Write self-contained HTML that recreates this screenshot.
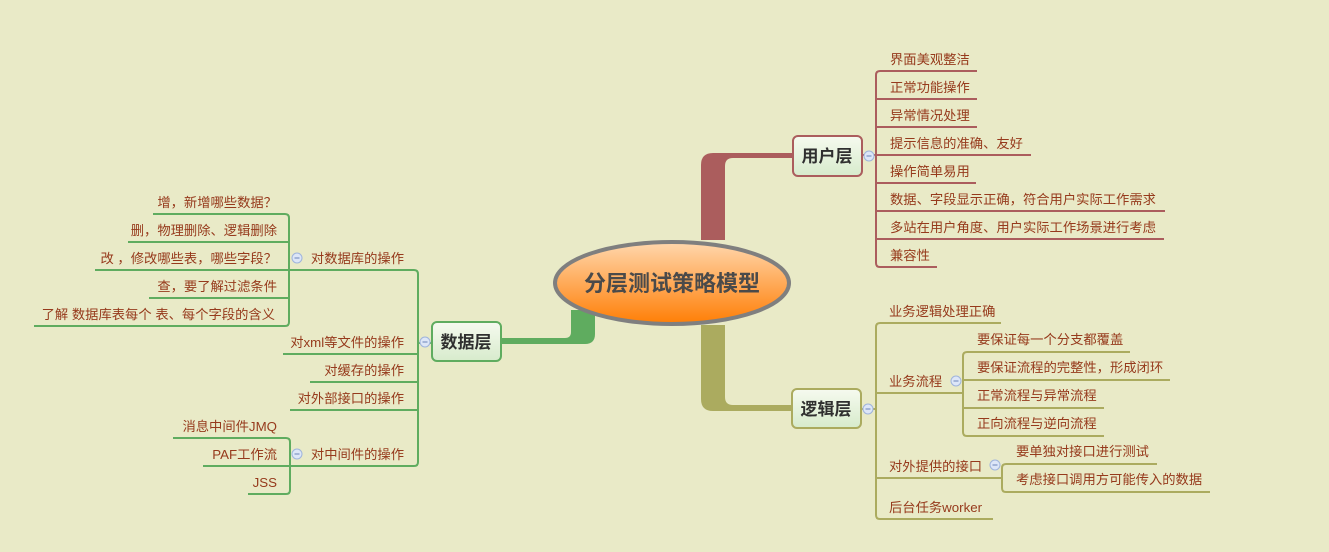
<!DOCTYPE html>
<html><head><meta charset="utf-8"><style>
html,body{margin:0;padding:0;background:#e9eac7;}
svg{display:block;}
text{font-family:"Liberation Sans","Noto Sans CJK SC",sans-serif;}
.t{font-size:13.3px;fill:#963a1c;}
.n{font-size:17px;font-weight:bold;fill:#2f2f2f;}
</style></head><body>
<svg width="1329" height="552" viewBox="0 0 1329 552" xmlns="http://www.w3.org/2000/svg">
<defs>
<linearGradient id="eg" x1="0" y1="0" x2="0" y2="1"><stop offset="0" stop-color="#ffd7ad"/><stop offset="1" stop-color="#ff7e05"/></linearGradient>
<linearGradient id="ng" x1="0" y1="0" x2="0" y2="1"><stop offset="0" stop-color="#f6faef"/><stop offset="1" stop-color="#d7ebcc"/></linearGradient>
</defs>
<rect width="1329" height="552" fill="#e9eac7"/>
<path d="M701,240 L701,165 Q701,153 713,153 L793,153 L793,158 L733,158 Q725,158 725,166 L725,240 Z" fill="#ab5d5d"/>
<path d="M701,325 L701,399 Q701,411 713,411 L793,411 L793,405 L733,405 Q725,405 725,397 L725,325 Z" fill="#abab5f"/>
<path d="M595,310 L595,334 Q595,344 585,344 L501,344 L501,338 L565,338 Q571,338 571,332 L571,310 Z" fill="#5fac5f"/>
<ellipse cx="672" cy="283" rx="117" ry="41" fill="url(#eg)" stroke="#7f7f7f" stroke-width="4"/>
<text x="672" y="291" text-anchor="middle" style="font-size:22px;font-weight:bold;fill:#4a4a4a">分层测试策略模型</text>
<g fill="none" stroke="#ab5d5d" stroke-width="2">
<path d="M862,155 L876,155"/>
<path d="M977,71 L880,71 Q876,71 876,75 L876,263 Q876,267 880,267 L937,267"/>
<path d="M876,99 L977,99 M876,127 L977,127 M876,155 L1031,155 M876,183 L976,183 M876,211 L1165,211 M876,239 L1164,239"/>
</g>
<rect x="793" y="136" width="69" height="40" rx="5" fill="url(#ng)" stroke="#ab5d5d" stroke-width="2"/>
<text class="n" x="827" y="162" text-anchor="middle">用户层</text>
<g class="t">
<text x="890" y="64">界面美观整洁</text>
<text x="890" y="92">正常功能操作</text>
<text x="890" y="120">异常情况处理</text>
<text x="890" y="148">提示信息的准确、友好</text>
<text x="890" y="176">操作简单易用</text>
<text x="890" y="204">数据、字段显示正确，符合用户实际工作需求</text>
<text x="890" y="232">多站在用户角度、用户实际工作场景进行考虑</text>
<text x="890" y="260">兼容性</text>
</g>
<g fill="none" stroke="#abab5f" stroke-width="2">
<path d="M861,409 L876,409"/>
<path d="M1001,323 L880,323 Q876,323 876,327 L876,515 Q876,519 880,519 L993,519"/>
<path d="M876,393 L963,393 M876,478 L1002,478"/>
<path d="M1130,352 L967,352 Q963,352 963,356 L963,432 Q963,436 967,436 L1104,436 M963,380 L1170,380 M963,408 L1104,408"/>
<path d="M1157,464 L1006,464 Q1002,464 1002,468 L1002,488 Q1002,492 1006,492 L1210,492"/>
</g>
<rect x="792" y="389" width="69" height="39" rx="5" fill="url(#ng)" stroke="#abab5f" stroke-width="2"/>
<text class="n" x="826" y="415" text-anchor="middle">逻辑层</text>
<g class="t">
<text x="889" y="316">业务逻辑处理正确</text>
<text x="889" y="386">业务流程</text>
<text x="977" y="344">要保证每一个分支都覆盖</text>
<text x="977" y="372">要保证流程的完整性，形成闭环</text>
<text x="977" y="400">正常流程与异常流程</text>
<text x="977" y="428">正向流程与逆向流程</text>
<text x="889" y="471">对外提供的接口</text>
<text x="1016" y="456">要单独对接口进行测试</text>
<text x="1016" y="484">考虑接口调用方可能传入的数据</text>
<text x="889" y="512">后台任务worker</text>
</g>
<g fill="none" stroke="#5fac5f" stroke-width="2">
<path d="M418,343 L432,343"/>
<path d="M289,270 L414,270 Q418,270 418,274 L418,462 Q418,466 414,466 L289,466"/>
<path d="M283,354 L418,354 M310,382 L418,382 M290,410 L418,410"/>
<path d="M153,214 L285,214 Q289,214 289,218 L289,322 Q289,326 285,326 L34,326 M128,242 L289,242 M95,270 L289,270 M149,298 L289,298"/>
<path d="M173,438 L286,438 Q290,438 290,442 L290,490 Q290,494 286,494 L248,494 M203,466 L290,466"/>
</g>
<rect x="432" y="322" width="69" height="39" rx="5" fill="url(#ng)" stroke="#5fac5f" stroke-width="2"/>
<text class="n" x="466" y="348" text-anchor="middle">数据层</text>
<g class="t" text-anchor="end">
<text x="277" y="207">增，新增哪些数据？</text>
<text x="277" y="235">删，物理删除、逻辑删除</text>
<text x="277" y="263">改 ，修改哪些表，哪些字段？</text>
<text x="277" y="291">查，要了解过滤条件</text>
<text x="275" y="319">了解 数据库表每个 表、每个字段的含义</text>
<text x="404" y="263">对数据库的操作</text>
<text x="404" y="347">对xml等文件的操作</text>
<text x="404" y="375">对缓存的操作</text>
<text x="404" y="403">对外部接口的操作</text>
<text x="404" y="459">对中间件的操作</text>
<text x="277" y="431">消息中间件JMQ</text>
<text x="277" y="459">PAF工作流</text>
<text x="277" y="487">JSS</text>
</g>
<g fill="#dde6f7" stroke="#9fb4dc" stroke-width="1">
<circle cx="869" cy="156" r="5"/><circle cx="868" cy="409" r="5"/><circle cx="956" cy="381" r="5"/>
<circle cx="995" cy="465" r="5"/><circle cx="425" cy="342" r="5"/><circle cx="297" cy="258" r="5"/><circle cx="297" cy="454" r="5"/>
</g>
<g stroke="#6b84b8" stroke-width="1">
<path d="M866.5,156H871.5 M865.5,409H870.5 M953.5,381H958.5 M992.5,465H997.5 M422.5,342H427.5 M294.5,258H299.5 M294.5,454H299.5"/>
</g>
</svg>
</body></html>
